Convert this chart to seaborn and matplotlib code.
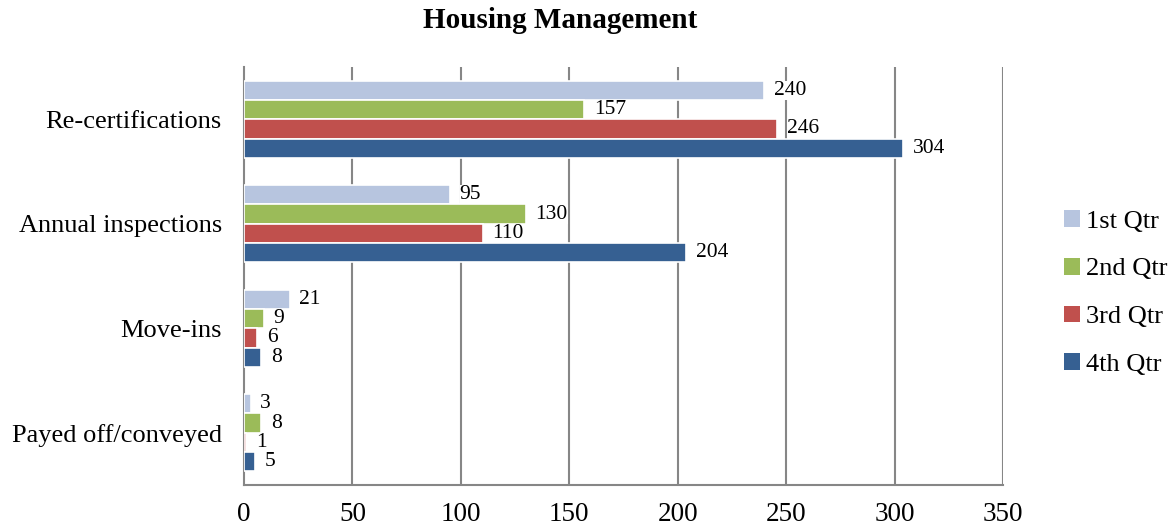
import matplotlib
matplotlib.use("Agg")
import matplotlib.pyplot as plt
import seaborn as sns
import pandas as pd
from matplotlib.patches import Patch

categories = ["Re-certifications", "Annual inspections", "Move-ins", "Payed off/conveyed"]
quarters = ["1st Qtr", "2nd Qtr", "3rd Qtr", "4th Qtr"]
q1 = [240, 95, 21, 3]
q2 = [157, 130, 9, 8]
q3 = [246, 110, 6, 1]
q4 = [304, 204, 8, 5]
colors = ["#B7C5DF", "#9BBB59", "#C0504D", "#366092"]
x_ticks = [0, 50, 100, 150, 200, 250, 300, 350]

rows = []
for q, vals in zip(quarters, [q1, q2, q3, q4]):
    for c, v in zip(categories, vals):
        rows.append({"category": c, "quarter": q, "value": v})
df = pd.DataFrame(rows)

sns.set_theme(style="white")
plt.rcParams["font.family"] = ["Liberation Serif", "DejaVu Serif"]
plt.rcParams["text.color"] = "black"
plt.rcParams["xtick.color"] = "black"
plt.rcParams["ytick.color"] = "black"

fig = plt.figure(figsize=(11.73, 5.27), dpi=100)
ax = fig.add_axes([244/1173, 1-485/527, (1003-244)/1173, (485-67)/527])

sns.barplot(data=df, y="category", x="value", hue="quarter", order=categories,
            hue_order=quarters, palette=colors, orient="h", width=0.74, saturation=1,
            edgecolor="white", linewidth=1.2, ax=ax, legend=False, zorder=3)

gray = "#868686"
ax.set_xlim(0, 350)
ax.set_ylim(3.5, -0.5)
ax.set_xticks(x_ticks)
ax.set_xticklabels([str(t) for t in x_ticks], fontsize=19.5, color="black")
ax.set_yticks(range(len(categories)))
ax.set_yticklabels(categories, fontsize=19, color="black")
ax.set_yticks([-0.5, 0.5, 1.5, 2.5, 3.5], minor=True)
ax.tick_params(axis="y", which="major", length=0, pad=16)
ax.tick_params(axis="y", which="minor", length=6, color=gray, width=1.5, direction="out")
ax.tick_params(axis="x", length=6, color=gray, width=1.5, direction="out", pad=6)
ax.set_xlabel("")
ax.set_ylabel("")
for t in x_ticks[1:]:
    ax.axvline(t, color=gray, linewidth=1.5, zorder=1)
for s in ["top", "right"]:
    ax.spines[s].set_visible(False)
for s in ["left", "bottom"]:
    ax.spines[s].set_color(gray)
    ax.spines[s].set_linewidth(1.5)

for cont in ax.containers:
    texts = ax.bar_label(cont, padding=7, fontsize=15.5, color="black", zorder=4)
    for t in texts:
        t.set_bbox(dict(facecolor="white", edgecolor="none", pad=0.02))

handles = [Patch(facecolor=c, edgecolor="none") for c in colors]
fig.legend(handles, quarters, loc="center left", bbox_to_anchor=(1040/1173, 1-293/527),
           frameon=False, fontsize=19, labelspacing=0.95, handlelength=0.6,
           handleheight=0.6, handletextpad=0.25)

fig.text(560/1173, 1-21/527, "Housing Management", ha="center", va="center",
         fontsize=21, fontweight="bold", color="black")

fig.savefig("out.png", dpi=100)
